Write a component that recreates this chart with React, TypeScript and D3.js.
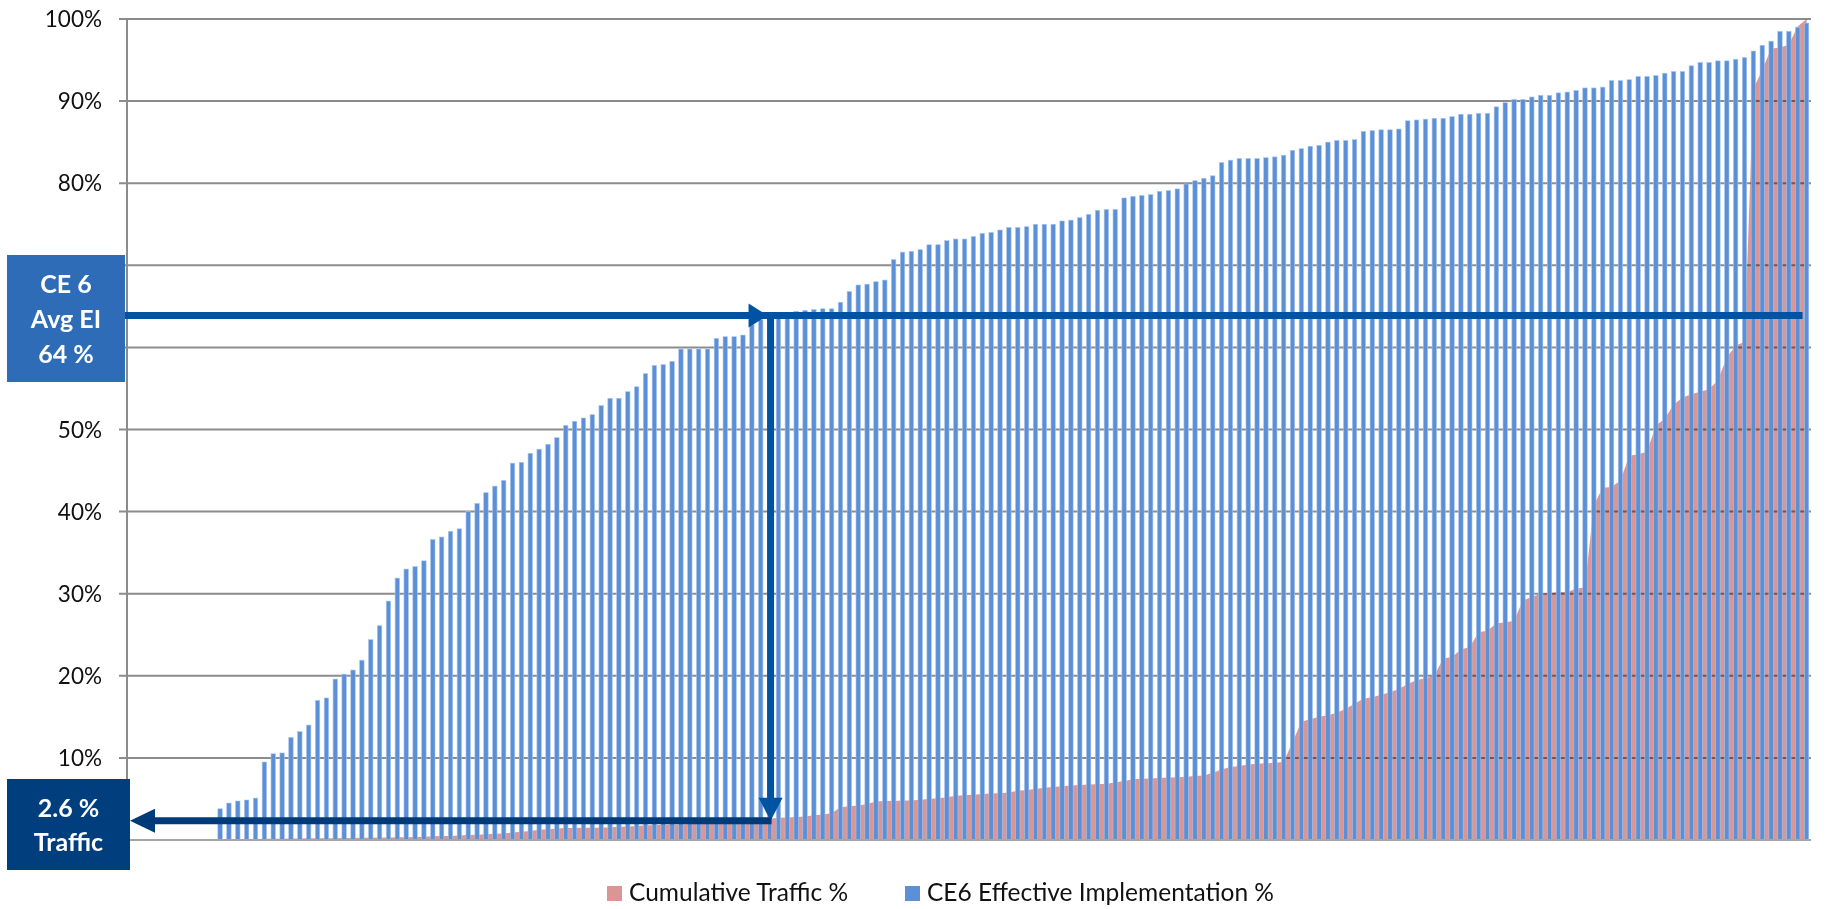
import * as d3 from 'd3'

// y axis ticks (percent); 0% sits under the traffic box in the reference, so it is not labelled
const yTicks = [0, 10, 20, 30, 40, 50, 60, 70, 80, 90, 100]

// Cumulative Traffic % (area), one value per category
const cumulativeTraffic = [
  0, 0, 0, 0, 0, 0.05, 0.05, 0.05, 0.1, 0.1,
  0.1, 0.1, 0.1, 0.12, 0.12, 0.15, 0.15, 0.15, 0.18, 0.18,
  0.2, 0.2, 0.22, 0.22, 0.25, 0.25, 0.28, 0.28, 0.3, 0.3,
  0.33, 0.35, 0.38, 0.4, 0.45, 0.48, 0.5, 0.55, 0.6, 0.65,
  0.7, 0.75, 0.8, 0.9, 1.0, 1.1, 1.25, 1.3, 1.4, 1.45,
  1.45, 1.5, 1.5, 1.5, 1.55, 1.6, 1.65, 1.7, 1.8, 1.8,
  1.85, 1.9, 1.9, 1.95, 1.95, 2.0, 2.0, 2.05, 2.1, 2.2,
  2.3, 2.45, 2.6, 2.7, 2.75, 2.8, 2.85, 3.0, 3.1, 3.25,
  4.0, 4.1, 4.2, 4.4, 4.7, 4.75, 4.75, 4.8, 4.8, 4.9,
  5.0, 5.1, 5.2, 5.4, 5.45, 5.5, 5.6, 5.65, 5.7, 5.8,
  6.0, 6.1, 6.2, 6.35, 6.45, 6.55, 6.65, 6.7, 6.75, 6.8,
  6.85, 7.0, 7.2, 7.4, 7.45, 7.5, 7.55, 7.6, 7.65, 7.7,
  7.8, 7.85, 8.2, 8.6, 8.9, 9.0, 9.2, 9.3, 9.35, 9.4,
  9.5, 11.9, 14.4, 14.7, 15.0, 15.2, 15.5, 16.0, 16.6, 17.2,
  17.4, 17.7, 18.0, 18.4, 19.0, 19.5, 19.7, 20.0, 22.1, 22.3,
  23.2, 23.5, 25.3, 25.5, 26.4, 26.5, 26.7, 29.2, 29.6, 30.0,
  30.1, 30.2, 30.2, 30.6, 30.8, 40.8, 42.9, 43.0, 43.8, 46.8,
  47.0, 47.3, 50.5, 51.3, 53.0, 53.9, 54.3, 54.6, 54.9, 56.0,
  58.8, 60.2, 60.7, 91.5, 93.8, 96.4, 96.5, 96.9, 99.1, 100,
]

// CE6 Effective Implementation % (columns); the first ten categories have no column
const effectiveImpl: (number | null)[] = [
  null, null, null, null, null, null, null, null, null, null,
  3.8, 4.5, 4.75, 4.87, 5.1, 9.5, 10.5, 10.6, 12.5, 13.2,
  14.0, 17.0, 17.3, 19.6, 20.2, 20.7, 21.9, 24.4, 26.1, 29.1,
  31.9, 33.0, 33.3, 34.0, 36.6, 36.9, 37.6, 37.9, 40.0, 41.0,
  42.3, 43.1, 43.8, 45.9, 46.0, 47.1, 47.6, 48.2, 49.0, 50.5,
  51.0, 51.4, 51.8, 52.9, 53.8, 53.8, 54.6, 55.2, 56.8, 57.8,
  57.9, 58.3, 59.8, 59.8, 59.8, 59.8, 61.1, 61.3, 61.3, 61.5,
  62.8, 63.4, 63.8, 64.0, 64.2, 64.4, 64.5, 64.6, 64.7, 64.7,
  65.5, 66.8, 67.6, 67.7, 68.0, 68.2, 70.7, 71.6, 71.7, 71.9,
  72.5, 72.5, 73.0, 73.2, 73.2, 73.5, 73.9, 74.0, 74.3, 74.6,
  74.6, 74.7, 75.0, 75.0, 75.0, 75.4, 75.5, 75.8, 76.2, 76.7,
  76.8, 76.8, 78.2, 78.4, 78.5, 78.6, 79.0, 79.1, 79.3, 79.9,
  80.3, 80.6, 80.9, 82.5, 82.8, 83.0, 83.0, 83.0, 83.1, 83.2,
  83.4, 84.0, 84.2, 84.5, 84.6, 85.0, 85.2, 85.2, 85.3, 86.3,
  86.4, 86.5, 86.5, 86.6, 87.6, 87.7, 87.8, 87.9, 87.9, 88.1,
  88.4, 88.4, 88.5, 88.5, 89.3, 89.8, 90.2, 90.2, 90.5, 90.7,
  90.7, 91.0, 91.1, 91.3, 91.6, 91.6, 91.7, 92.5, 92.5, 92.6,
  93.0, 93.0, 93.1, 93.4, 93.6, 93.6, 94.3, 94.7, 94.7, 94.9,
  94.9, 95.1, 95.3, 96.1, 96.8, 97.3, 98.5, 98.5, 99.0, 99.5,
]

const avgEI = 64 // CE 6 average effective implementation
const avgIndex = 72 // category where the columns reach the average
const trafficAtAvg = 2.6

const avgLabel = ['CE 6', 'Avg EI', '64 %']
const trafficLabel = ['2.6 %', 'Traffic']

const legendItems = [
  {label: 'Cumulative Traffic %', color: '#d99694', x: 607},
  {label: 'CE6 Effective Implementation %', color: '#5b8fd6', x: 905},
]

export default function App() {
  const width = 1826
  const height = 909
  const plotLeft = 127
  const plotRight = 1811
  const plotTop = 19
  const plotBottom = 840
  const font = 'Lato, "Noto Sans", sans-serif'

  const categories = cumulativeTraffic.map((_, i) => i)
  const x = d3.scaleBand<number>().domain(categories).range([plotLeft, plotRight]).padding(0)
  const y = d3.scaleLinear([0, 100], [plotBottom, plotTop])
  const cx = (i: number) => x(i)! + x.bandwidth() / 2
  const barW = x.bandwidth() * 0.5

  const area = d3.area<number>()
    .x((_, i) => cx(i))
    .y0(y(0))
    .y1(d => y(d))

  const avgY = y(avgEI)
  const vx = cx(avgIndex) + 1
  const lowY = y(trafficAtAvg) + 2

  return (
    <svg width={width} height={height} style={{position: 'absolute', left: 0, top: 0, background: '#fff'}}>
      <style>{`body{margin:0}`}</style>
      <rect width={width} height={height} fill="#fff"/>

      {/* pink area */}
      <path d={area(cumulativeTraffic)!} fill="#d99694"/>

      {/* gridlines */}
      <g style={{mixBlendMode: 'multiply'}}>
        {yTicks.filter(t => t > 0).map(t => (
          <line key={t} x1={plotLeft - 8} x2={plotRight} y1={y(t)} y2={y(t)} stroke="#8c8c8c" strokeWidth={2}/>
        ))}
      </g>

      {/* columns */}
      {effectiveImpl.map((v, i) => v == null ? null : (
        <rect key={i} x={cx(i) - barW / 2} y={y(v)} width={barW} height={y(0) - y(v)}
              fill="#5b8fd6" stroke="#a9c5ee" strokeWidth={0.6}/>
      ))}

      {/* axes */}
      <line x1={plotLeft} x2={plotLeft} y1={plotTop} y2={plotBottom} stroke="#8c8c8c" strokeWidth={2}/>
      <line x1={plotLeft - 8} x2={plotRight} y1={plotBottom} y2={plotBottom} stroke="#a6a6a6" strokeWidth={2}/>
      {yTicks.filter(t => t > 0).map(t => (
        <text key={t} x={102} y={y(t)} dy="0.36em" textAnchor="end" fontFamily={font} fontSize={22.5} fill="#111">
          {t}%
        </text>
      ))}

      {/* average line with arrows */}
      <line x1={125} x2={cx(categories.length - 1) - 4} y1={avgY + 1} y2={avgY + 1} stroke="#0052a3" strokeWidth={7}/>
      <polygon points={`${vx - 22},${avgY - 11} ${vx - 3},${avgY + 1} ${vx - 22},${avgY + 13}`} fill="#0052a3"/>
      <line x1={vx} x2={vx} y1={avgY - 2} y2={lowY - 20} stroke="#0052a3" strokeWidth={7}/>
      <polygon points={`${vx - 12},${lowY - 23} ${vx + 12},${lowY - 23} ${vx},${lowY}`} fill="#0052a3"/>
      <line x1={vx + 1} x2={150} y1={lowY} y2={lowY} stroke="#003b79" strokeWidth={7}/>
      <polygon points={`${155},${lowY - 12} ${155},${lowY + 12} ${130},${lowY}`} fill="#003b79"/>

      {/* label boxes */}
      <rect x={7} y={255} width={118} height={127} fill="#2e6cb8"/>
      <text x={66} y={293} textAnchor="middle" fontFamily={font} fontWeight={700} fontSize={25} fill="#fff">
        {avgLabel.map((s, i) => (
          <tspan key={s} x={66} dy={i === 0 ? 0 : 35}>{s}</tspan>
        ))}
      </text>
      <rect x={7} y={779} width={123} height={91} fill="#003e7e"/>
      <text x={68.5} y={817} textAnchor="middle" fontFamily={font} fontWeight={700} fontSize={25} fill="#fff">
        {trafficLabel.map((s, i) => (
          <tspan key={s} x={68.5} dy={i === 0 ? 0 : 34}>{s}</tspan>
        ))}
      </text>

      {/* legend */}
      {legendItems.map(l => (
        <g key={l.label}>
          <rect x={l.x} y={886} width={15} height={15} fill={l.color}/>
          <text x={l.x + 22} y={901} fontFamily={font} fontSize={24.5} fill="#111">{l.label}</text>
        </g>
      ))}
    </svg>
  )
}
